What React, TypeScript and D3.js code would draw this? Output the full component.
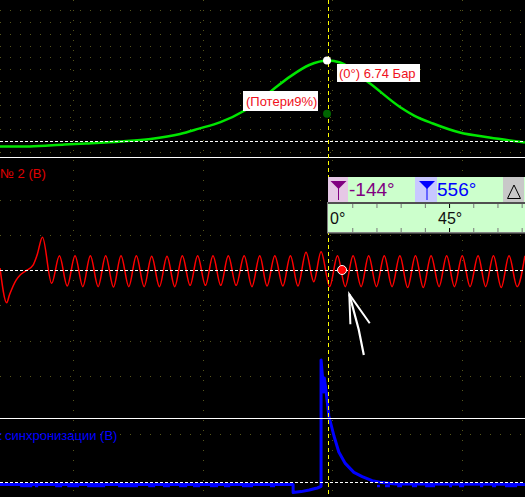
import React, { useRef, useEffect } from 'react';
import * as d3 from 'd3';

// pressure trace: crank angle (deg) / bar
const pressureDeg = [-122, -111, -98, -90, -77, -66, -55, -48, -40, -31, -21, -14, -7, 0, 4.5, 15.6, 27, 32, 39, 49, 60, 73.2];
const pressureBar = [-0.5, -0.5, -0.34, -0.25, -0.08, 0.13, 0.55, 1.0, 1.55, 2.53, 4.2, 5.4, 6.36, 6.74, 6.57, 4.8, 2.78, 2.1, 1.43, 0.67, 0.25, -0.17];

// vibration sensor trace
const vibrationDeg = [
  -122, -119.5, -118.5, -116, -114.5, -112.5, -109.7, -108.2, -106.2, -102.8, -99.9, -97, -94.1, -91.2, -88.4, -85.5, -82.7, -79.8, -77, -74.1,
  -71.3, -68.4, -65.6, -62.7, -59.9, -57, -54.2, -51.3, -48.5, -45.6, -42.8, -39.9, -37.1, -34.2, -31.2, -28.3, -25.4, -22.7, -19.8, -16.8,
  -14, -11.2, -8.2, -5.3, -2.6, 0.6, 3.5, 6.4, 9.3, 12.3, 15.1, 18, 20.9, 23.8, 26.7, 29.6, 32.5, 35.4, 38.3, 41.3,
  44.1, 47, 49.9, 52.8, 55.8, 58.6, 61.5, 64.4, 67.3, 70.3, 73.2,
];
const vibrationV = [
  0.13, -2.18, -1.67, -0.67, -0.33, -0.07, 0.33, 1, 2.18, -0.89, 0.95, -1.07, 0.95, -1.11, 0.95, -1.11, 0.95, -1.13, 0.95, -1.11,
  0.95, -1.11, 0.91, -1.11, 0.91, -1.11, 0.95, -1.02, 0.95, -1.02, 0.95, -1.02, 0.95, -1.02, 0.95, -1.11, 0.95, -1.07, 0.95, -1.07,
  0.95, -1.07, 1.18, -0.78, 1.22, -1.11, 0.95, -1.11, 0.95, -1.11, 0.95, -1.11, 0.95, -1.11, 0.95, -1.16, 0.95, -1.16, 0.95, -1.11,
  0.95, -1.11, 0.95, -1.11, 0.95, -1.11, 0.95, -1.16, 0.95, -1.11, 0.95,
];

// sync sensor trace
const syncDeg = [-122, -13, -13, -10, -7, -4, -2.6, -2.6, -1.6, -1.4, -0.8, 0.3, 2.2, 4, 6.4, 9.6, 12.7, 16.4, 20.1, 25, 73.2];
const syncV = [-0.03, -0.03, -0.43, -0.38, -0.3, -0.2, -0.12, 6.2, 4.6, 5.3, 4.7, 3.4, 2.4, 1.6, 1.03, 0.58, 0.37, 0.17, 0.07, 0.0, -0.02];
// little downward notches in the sync baseline
const dipStart = [-114.5, -109, -101.5, -97, -89.6, -78.1, -66.9, -61.4, -55.4, -50.2, -43.9, -38.7, -32, -21.6, 18.2, 21.2, 25.7, 31.2, 36.1, 45, 48.7, 56.5, 61, 65.8];
const dipEnd = [-110, -107.8, -98.9, -92.6, -82.9, -70.7, -64.3, -58.8, -52.4, -47.6, -40.9, -36.4, -27.9, -19.7, 19.3, 23, 27.5, 33.1, 39.8, 46.1, 50.6, 57.7, 62.5, 70.3];

const gridDeg = [-94.8, -46.5, 1.5, 49.8];
const pressureGrid = [-1, 1, 2, 3, 4, 5, 6, 7, 8, 9, 10, 11];
const vibrationGrid = [-4.7, -2.35, 2.35, 4.7];
const syncGrid = [2.5, 5.4];
const angleTicks = [9, 18, 27, 36, 45, 54, 63, 72];
const angleLabels = [0, 45];

// hand drawn arrow on the screenshot
const arrowHeadDeg = [8.3, 7.9, 15.5];
const arrowHeadV = [-3.62, -1.62, -3.55];
const arrowShaftDeg = [7.9, 11.4, 13.3];
const arrowShaftV = [-1.62, -3.97, -5.67];

const width = 525;
const height = 497;

const App: React.FC = () => {
  const svgRef = useRef<SVGSVGElement | null>(null);

  useEffect(() => {
    const svg = d3.select(svgRef.current);
    svg.selectAll('*').remove();

    const x = d3.scaleLinear().domain([-122, 73.24]).range([0, width]);
    const yP = d3.scaleLinear().domain([0, 6.74]).range([140.5, 60.5]);
    const yV = d3.scaleLinear().domain([0, 1]).range([270, 255]);
    const yS = d3.scaleLinear().domain([0, 1]).range([484, 464]);

    svg.append('rect').attr('width', width).attr('height', height).attr('fill', '#000');

    const grid = svg.append('g')
      .attr('stroke', '#55551a')
      .attr('stroke-dasharray', '1 9')
      .attr('shape-rendering', 'crispEdges');
    const hLines = [...pressureGrid.map(d => yP(d)), ...vibrationGrid.map(d => yV(d)), ...syncGrid.map(d => yS(d))];
    grid.selectAll('.h').data(hLines).enter().append('line')
      .attr('x1', 0).attr('x2', width)
      .attr('y1', d => Math.round(d) + 0.5).attr('y2', d => Math.round(d) + 0.5);
    grid.selectAll('.v').data(gridDeg).enter().append('line')
      .attr('x1', d => Math.round(x(d)) + 0.5).attr('x2', d => Math.round(x(d)) + 0.5)
      .attr('y1', 0).attr('y2', height);

    // pressure
    const pressureLine = d3.line<number>()
      .x(d => x(d))
      .y((_, i) => yP(pressureBar[i]))
      .curve(d3.curveMonotoneX);
    svg.append('path').attr('d', pressureLine(pressureDeg))
      .attr('fill', 'none').attr('stroke', '#00e600').attr('stroke-width', 2.5);

    // vibration
    const vibrationLine = d3.line<number>()
      .x(d => x(d))
      .y((_, i) => yV(vibrationV[i]))
      .curve(d3.curveMonotoneX);
    svg.append('path').attr('d', vibrationLine(vibrationDeg))
      .attr('fill', 'none').attr('stroke', '#ff0000').attr('stroke-width', 1.5);

    // sync
    const syncLine = d3.line<number>()
      .x(d => x(d))
      .y((_, i) => yS(syncV[i]));
    svg.append('path').attr('d', syncLine(syncDeg))
      .attr('fill', 'none').attr('stroke', '#0000ff').attr('stroke-width', 3).attr('stroke-linejoin', 'round');
    svg.selectAll('.dip').data(dipStart).enter().append('line')
      .attr('x1', d => x(d)).attr('x2', (_, i) => x(dipEnd[i]))
      .attr('y1', yS(-0.1)).attr('y2', yS(-0.1))
      .attr('stroke', '#0000ff').attr('stroke-width', 2.5);

    // zero lines and panel separators
    const zeros = [yP(0), yV(0), yS(0.08)];
    svg.selectAll('.zero').data(zeros).enter().append('line')
      .attr('x1', 0).attr('x2', width)
      .attr('y1', d => Math.round(d) + 0.5).attr('y2', d => Math.round(d) + 0.5)
      .attr('stroke', '#fff').attr('stroke-dasharray', '3 2').attr('shape-rendering', 'crispEdges');
    svg.selectAll('.sep').data([157, 418]).enter().append('line')
      .attr('x1', 0).attr('x2', width)
      .attr('y1', d => d + 0.5).attr('y2', d => d + 0.5)
      .attr('stroke', '#fff').attr('shape-rendering', 'crispEdges');

    // cursor
    svg.append('line')
      .attr('x1', 328.5).attr('x2', 328.5).attr('y1', 0).attr('y2', height)
      .attr('stroke', '#ffff00').attr('stroke-dasharray', '4 3').attr('shape-rendering', 'crispEdges');

    // channel titles
    svg.append('text').attr('x', 0).attr('y', 178)
      .attr('fill', '#e00000').attr('font-size', 13).text('№ 2 (В)');
    svg.append('text').attr('x', -1).attr('y', 440)
      .attr('fill', '#0000ff').attr('font-size', 13).text(':');
    svg.append('text').attr('x', 5).attr('y', 440)
      .attr('fill', '#0000ff').attr('font-size', 13).text('синхронизации (В)');

    // markers
    svg.append('circle').attr('cx', x(0) - 1).attr('cy', yP(6.74)).attr('r', 4).attr('fill', '#fff');
    svg.append('circle').attr('cx', x(0) - 1).attr('cy', yP(2.25)).attr('r', 4).attr('fill', '#006400');
    svg.append('circle').attr('cx', x(5.2)).attr('cy', yV(0)).attr('r', 4.5)
      .attr('fill', '#ff0000').attr('stroke', '#fff').attr('stroke-width', 1);

    // value labels
    const labels = [
      { text: '(0°) 6.74 Бар', left: 337, top: 64, w: 83, h: 18, tx: 339 },
      { text: '(Потери9%)', left: 243, top: 91, w: 75, h: 20, tx: 246 },
    ];
    labels.forEach(l => {
      svg.append('rect').attr('x', l.left).attr('y', l.top).attr('width', l.w).attr('height', l.h).attr('fill', '#fff');
      svg.append('text').attr('x', l.tx).attr('y', l.top + l.h / 2 + 4.5)
        .attr('fill', '#f01020').attr('font-size', 13).text(l.text);
    });

    // angle toolbar
    const bar = svg.append('g');
    bar.append('rect').attr('x', 328).attr('y', 177).attr('width', 197).attr('height', 26).attr('fill', '#ccffcc');
    bar.append('rect').attr('x', 328).attr('y', 177).attr('width', 20).attr('height', 26).attr('fill', '#e6c8e6');
    bar.append('rect').attr('x', 415).attr('y', 177).attr('width', 22).attr('height', 26).attr('fill', '#c8c8ff');
    bar.append('rect').attr('x', 503).attr('y', 177).attr('width', 21).attr('height', 26).attr('fill', '#c8c8c8');
    const funnel = (cx: number, color: string) => {
      bar.append('path').attr('d', `M${cx - 8},181H${cx + 8}L${cx},189Z`).attr('fill', color);
      bar.append('line').attr('x1', cx).attr('x2', cx).attr('y1', 188).attr('y2', 200)
        .attr('stroke', color).attr('stroke-width', 1);
    };
    funnel(338.5, '#800080');
    funnel(427, '#0000ff');
    bar.append('path').attr('d', 'M514,185L520.5,198.5H507.5Z').attr('fill', 'none').attr('stroke', '#000');
    bar.append('text').attr('x', 349).attr('y', 196).attr('fill', '#800080').attr('font-size', 19).text('-144°');
    bar.append('text').attr('x', 437).attr('y', 196).attr('fill', '#0000ff').attr('font-size', 19).text('556°');

    // angle scale strip
    bar.append('rect').attr('x', 328).attr('y', 203).attr('width', 197).attr('height', 30).attr('fill', '#ccffcc');
    bar.append('rect').attr('x', 327).attr('y', 202).attr('width', 198).attr('height', 2).attr('fill', '#505050');
    bar.append('rect').attr('x', 327).attr('y', 232).attr('width', 198).attr('height', 1.5).attr('fill', '#808080');
    bar.append('rect').attr('x', 327).attr('y', 202).attr('width', 1).attr('height', 31).attr('fill', '#808080');

    const topTicks = bar.append('g').attr('transform', 'translate(0,204)')
      .call(d3.axisBottom(x).tickValues(angleTicks).tickSize(4).tickFormat(() => ''));
    const bottomTicks = bar.append('g').attr('transform', 'translate(0,232)')
      .call(d3.axisTop(x).tickValues(angleTicks).tickSize(4).tickFormat(() => ''));
    [topTicks, bottomTicks].forEach(a => {
      a.select('.domain').remove();
      a.selectAll('.tick line')
        .attr('stroke', (d: any) => (d === 45 ? '#000' : '#777'));
    });
    bar.selectAll('.angle').data(angleLabels).enter().append('text')
      .attr('x', d => (d === 0 ? x(d) + 2 : x(d) - 11))
      .attr('y', 224)
      .attr('fill', '#101010').attr('font-size', 16)
      .text(d => `${d}°`);

    // arrow
    const arrowLine = (deg: number[], v: number[]) =>
      d3.line<number>().x(d => x(d)).y((_, i) => yV(v[i]))(deg);
    svg.append('path').attr('d', arrowLine(arrowHeadDeg, arrowHeadV))
      .attr('fill', 'none').attr('stroke', '#fff').attr('stroke-width', 2);
    svg.append('path').attr('d', arrowLine(arrowShaftDeg, arrowShaftV))
      .attr('fill', 'none').attr('stroke', '#fff').attr('stroke-width', 2.2);
  }, []);

  return (
    <svg
      ref={svgRef}
      width={width}
      height={height}
      fontFamily="'Liberation Sans', Arial, sans-serif"
      style={{ position: 'absolute', left: 0, top: 0, display: 'block' }}
    />
  );
};

export default App;
